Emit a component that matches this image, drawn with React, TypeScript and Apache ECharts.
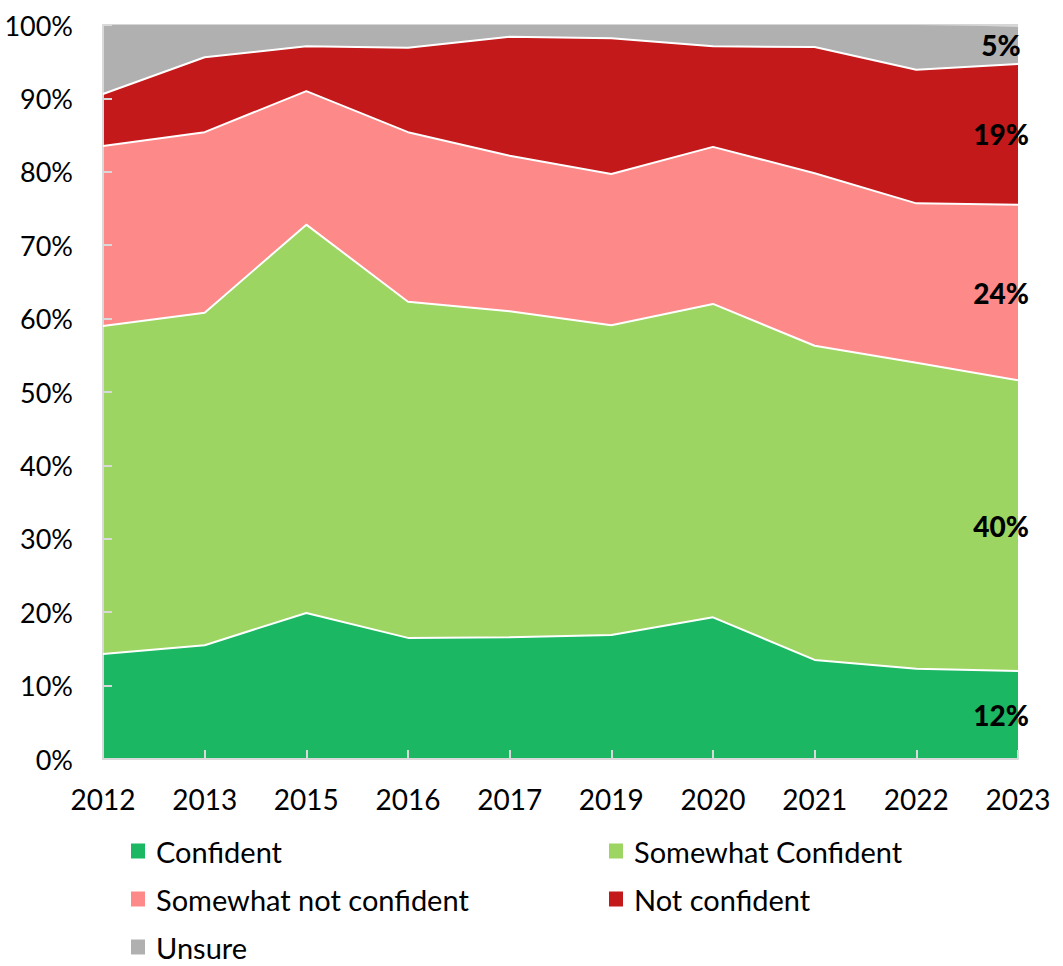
import React, { useEffect, useRef } from "react";
import * as echarts from "echarts";

const years = ["2012", "2013", "2015", "2016", "2017", "2019", "2020", "2021", "2022", "2023"];
const confident = [14.3, 15.5, 19.9, 16.5, 16.6, 16.9, 19.3, 13.5, 12.3, 12.0];
const somewhatConfident = [44.7, 45.3, 52.9, 45.8, 44.4, 42.2, 42.7, 42.8, 41.7, 39.6];
const somewhatNotConfident = [24.5, 24.6, 18.2, 23.1, 21.2, 20.6, 21.4, 23.5, 21.7, 23.9];
const notConfident = [7.1, 10.2, 6.1, 11.5, 16.2, 18.5, 13.7, 17.2, 18.2, 19.2];
const unsure = [9.4, 4.4, 2.9, 3.1, 1.6, 1.8, 2.9, 3.0, 6.1, 5.1];
const yTicks = [0, 10, 20, 30, 40, 50, 60, 70, 80, 90, 100];

const seriesDefs = [
  { name: "Confident", data: confident, color: "#1bb763" },
  { name: "Somewhat Confident", data: somewhatConfident, color: "#9dd562" },
  { name: "Somewhat not confident", data: somewhatNotConfident, color: "#fe8989" },
  { name: "Not confident", data: notConfident, color: "#c4191a" },
  { name: "Unsure", data: unsure, color: "#b0b0b0" },
];

const legendSlots = [
  { name: "Confident", left: 131, top: 851 },
  { name: "Somewhat Confident", left: 609, top: 851 },
  { name: "Somewhat not confident", left: 131, top: 899 },
  { name: "Not confident", left: 609, top: 899 },
  { name: "Unsure", left: 131, top: 947 },
];

const FONT = "Lato, 'Open Sans', sans-serif";

export default function App() {
  const ref = useRef<HTMLDivElement>(null);
  useEffect(() => {
    if (!ref.current) return;
    const chart = echarts.init(ref.current, undefined, { renderer: "svg" });
    const last = years.length - 1;
    let cumBefore = 0;
    const series = seriesDefs.map((s, i) => {
      const v = s.data[last];
      const mid = cumBefore + v / 2;
      cumBefore += v;
      return {
        name: s.name,
        type: "line",
        stack: "total",
        data: s.data,
        symbol: "none",
        itemStyle: { color: s.color },
        areaStyle: { color: s.color, opacity: 1 },
        lineStyle: { color: "#ffffff", width: i === seriesDefs.length - 1 ? 0 : 2 },
        markPoint: {
          symbol: "rect",
          symbolSize: 0,
          data: [
            {
              coord: [years[last], mid],
              value: Math.round(v),
              label: {
                show: true,
                formatter: Math.round(v) + "%",
                fontSize: 28,
                fontWeight: 900,
                fontFamily: FONT,
                color: "#000000",
                position: "inside",
                offset: [-17, 0],
              },
            },
          ],
        },
      };
    });

    const splitColors = yTicks.map((t) => (t === 100 ? "#c8c8c8" : t === 0 ? "rgba(0,0,0,0)" : "rgba(0,0,0,0.1)"));

    chart.setOption({
      animation: false,
      grid: { left: 103, right: 45, top: 25, bottom: 207, containLabel: false },
      legend: legendSlots.map((l) => ({
        data: [l.name],
        left: l.left,
        top: l.top - 16,
        itemWidth: 14,
        itemHeight: 15,
        icon: "rect",
        padding: 0,
        textStyle: { fontSize: 29, fontFamily: FONT, color: "#000", lineHeight: 32, padding: [0, 0, 0, 6] },
      })),
      xAxis: {
        type: "category",
        data: years,
        boundaryGap: false,
        axisLine: { show: true, lineStyle: { color: "#d9d9d9", width: 2 } },
        axisTick: { show: true, inside: true, length: 9, alignWithLabel: true, lineStyle: { color: "#d9d9d9", width: 2 } },
        axisLabel: { fontSize: 28, fontFamily: FONT, color: "#000", margin: 26 },
        splitLine: { show: false },
        z: 3,
      },
      yAxis: {
        type: "value",
        min: 0,
        max: 100,
        interval: 10,
        z: 3,
        axisLine: { show: true, lineStyle: { color: "#d9d9d9", width: 2 } },
        axisTick: { show: true, inside: true, length: 9, lineStyle: { color: "#d9d9d9", width: 2 } },
        axisLabel: { fontSize: 27, fontFamily: FONT, color: "#000", margin: 30, formatter: "{value}%" },
        splitLine: { show: true, lineStyle: { color: splitColors, width: 1.5 } },
      },
      series,
    });
    return () => chart.dispose();
  }, []);
  return <div ref={ref} style={{ width: 1063, height: 966, position: "absolute", left: 0, top: 0 }} />;
}
